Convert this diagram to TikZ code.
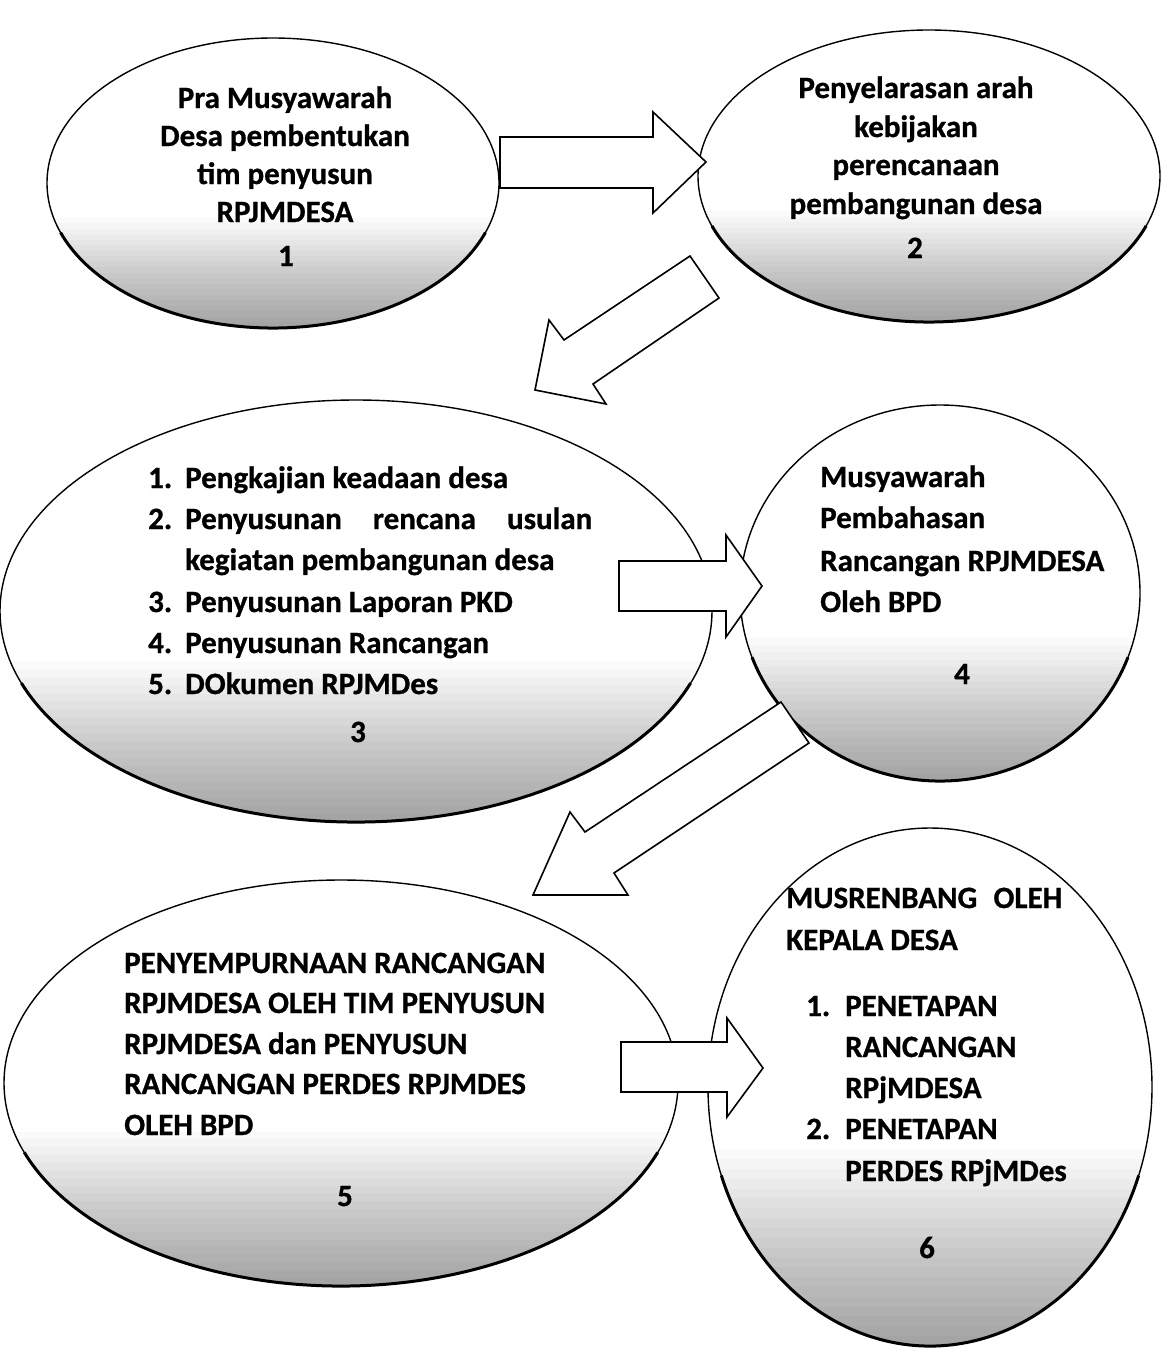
\documentclass[tikz,border=0pt]{standalone}
\usepackage{fontspec}
\setmainfont{Carlito}[BoldFeatures={FakeBold=0.8}]
\usetikzlibrary{shapes.geometric,calc}
\tikzset{
  bubble/.style={draw=black, line width=1.4pt, ellipse, inner sep=0pt, fill=white,
    path picture={\foreach \i in {1,...,20}{\fill[black, opacity=0.019]
      (path picture bounding box.south west) rectangle
      ($(path picture bounding box.south east)!\i*0.019!(path picture bounding box.north east)$);}}},
  lbl/.style={anchor=base west, inner sep=0pt, font=\bfseries\fontsize{31}{38}\selectfont},
  lblc/.style={lbl, anchor=base},
  blockarrow/.style={draw=black, line width=1.6pt, fill=white, line join=miter},
  rim/.style={line width=3pt}
}
\begin{document}
\begin{tikzpicture}[x=1pt,y=-1pt]
\useasboundingbox[fill=white] (0,0) rectangle (1175,1349);

% ellipses
\node[bubble, minimum width=452pt, minimum height=290pt] (e1) at (273,183) {};
\node[bubble, minimum width=462pt, minimum height=292pt] (e2) at (929,176) {};
\node[bubble, minimum width=712pt, minimum height=422pt] (e3) at (356,611) {};
\node[bubble, minimum width=400pt, minimum height=376pt] (e4) at (940,593) {};
\node[bubble, minimum width=674pt, minimum height=406pt] (e5) at (341,1083) {};
\node[bubble, minimum width=444pt, minimum height=518pt] (e6) at (930,1087) {};

% thicker lower rims
\draw[rim] (e1.center) ++(20:226 and 145) arc[start angle=20, end angle=160, x radius=226, y radius=145];
\draw[rim] (e2.center) ++(20:231 and 146) arc[start angle=20, end angle=160, x radius=231, y radius=146];
\draw[rim] (e3.center) ++(20:356 and 211) arc[start angle=20, end angle=160, x radius=356, y radius=211];
\draw[rim] (e4.center) ++(20:200 and 188) arc[start angle=20, end angle=160, x radius=200, y radius=188];
\draw[rim] (e5.center) ++(20:337 and 203) arc[start angle=20, end angle=160, x radius=337, y radius=203];
\draw[rim] (e6.center) ++(20:222 and 259) arc[start angle=20, end angle=160, x radius=222, y radius=259];

% block arrows
\draw[blockarrow] (500,137) -- (653,137) -- (653,112) -- (706,162) -- (653,213) -- (653,188) -- (500,188) -- cycle;
\draw[blockarrow] (690,256) -- (719,298) -- (593,384) -- (606,404) -- (535,390) -- (549,320) -- (564,340) -- cycle;
\draw[blockarrow] (619,561) -- (726,561) -- (726,535) -- (762,586) -- (726,637) -- (726,611) -- (619,611) -- cycle;
\draw[blockarrow] (781,702) -- (809,743) -- (614,873) -- (628,895) -- (533,895) -- (570,812) -- (585,832) -- cycle;
\draw[blockarrow] (621,1042) -- (727,1042) -- (727,1018) -- (763,1068) -- (727,1117) -- (727,1092) -- (621,1092) -- cycle;

% text 1
\node[lblc] (t1a) at (285,108) {Pra Musyawarah};
\node[lblc] (t1b) at (285,146) {Desa pembentukan};
\node[lblc] (t1c) at (285,184) {tim penyusun};
\node[lblc] (t1d) at (285,222) {RPJMDESA};
\node[lblc] (n1) at (286,266) {1};

% text 2
\node[lblc] (t2a) at (916,98) {Penyelarasan arah};
\node[lblc] (t2b) at (916,137) {kebijakan};
\node[lblc] (t2c) at (916,175) {perencanaan};
\node[lblc] (t2d) at (916,214) {pembangunan desa};
\node[lblc] (n2) at (915,258) {2};

% text 3
\node[lbl] (k3a) at (148,488) {1.};
\node[lbl] (t3a) at (185,488) {Pengkajian keadaan desa};
\node[lbl] (k3b) at (148,529) {2.};
\node[lbl] (t3b) at (185,529) {\hbox to 407pt{Penyusunan\hfill rencana\hfill usulan}};
\node[lbl] (t3c) at (185,570) {kegiatan pembangunan desa};
\node[lbl] (k3d) at (148,612) {3.};
\node[lbl] (t3d) at (185,612) {Penyusunan Laporan PKD};
\node[lbl] (k3e) at (148,653) {4.};
\node[lbl] (t3e) at (185,653) {Penyusunan Rancangan};
\node[lbl] (k3f) at (148,694) {5.};
\node[lbl] (t3f) at (185,694) {DOkumen RPJMDes};
\node[lblc] (n3) at (358,742) {3};

% text 4
\node[lbl] (t4a) at (820,487) {Musyawarah};
\node[lbl] (t4b) at (820,528) {Pembahasan};
\node[lbl] (t4c) at (820,571) {Rancangan RPJMDESA};
\node[lbl] (t4d) at (820,612) {Oleh BPD};
\node[lblc] (n4) at (962,684) {4};

% text 5
\node[lbl] (t5a) at (124,973) {PENYEMPURNAAN RANCANGAN};
\node[lbl] (t5b) at (124,1013) {RPJMDESA OLEH TIM PENYUSUN};
\node[lbl] (t5c) at (124,1054) {RPJMDESA dan PENYUSUN};
\node[lbl] (t5d) at (124,1094) {RANCANGAN PERDES RPJMDES};
\node[lbl] (t5e) at (124,1135) {OLEH BPD};
\node[lblc] (n5) at (345,1206) {5};

% text 6
\node[lbl] (t6a) at (786,908) {\hbox to 276pt{MUSRENBANG\hfill OLEH}};
\node[lbl] (t6b) at (786,950) {KEPALA DESA};
\node[lbl] (k6c) at (806,1016) {1.};
\node[lbl] (t6c) at (845,1016) {PENETAPAN};
\node[lbl] (t6d) at (845,1057) {RANCANGAN};
\node[lbl] (t6e) at (845,1098) {RPjMDESA};
\node[lbl] (k6f) at (806,1139) {2.};
\node[lbl] (t6f) at (845,1139) {PENETAPAN};
\node[lbl] (t6g) at (845,1181) {PERDES RPjMDes};
\node[lblc] (n6) at (927,1258) {6};
\end{tikzpicture}
\end{document}
